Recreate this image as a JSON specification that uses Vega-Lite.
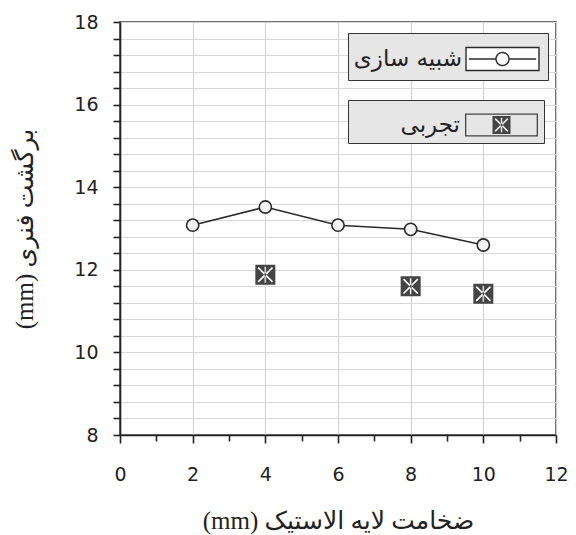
{
  "$schema": "https://vega.github.io/schema/vega-lite/v6.json",
  "width": 436,
  "height": 413,
  "autosize": "none",
  "padding": {"left": 120, "top": 22, "right": 20, "bottom": 100},
  "background": "white",
  "config": {
    "font": "DejaVu Sans",
    "view": {"stroke": "#404040", "strokeWidth": 1.6}
  },
  "datasets": {
    "sim": [
      {"x": 2, "y": 13.08, "series": "شبیه سازی"},
      {"x": 4, "y": 13.52, "series": "شبیه سازی"},
      {"x": 6, "y": 13.08, "series": "شبیه سازی"},
      {"x": 8, "y": 12.98, "series": "شبیه سازی"},
      {"x": 10, "y": 12.6, "series": "شبیه سازی"}
    ],
    "exp": [
      {"x": 4, "y": 11.88, "series": "تجربی"},
      {"x": 8, "y": 11.6, "series": "تجربی"},
      {"x": 10, "y": 11.42, "series": "تجربی"}
    ]
  },
  "encoding": {
    "x": {
      "field": "x",
      "type": "quantitative",
      "scale": {"domain": [0, 12], "nice": false, "zero": false},
      "axis": {
        "values": [0, 1, 2, 3, 4, 5, 6, 7, 8, 9, 10, 11, 12],
        "labelExpr": "datum.value % 2 === 0 ? format(datum.value, 'd') : ''",
        "grid": true,
        "gridColor": "#d2d2d2",
        "gridWidth": 1.2,
        "gridOpacity": {"condition": {"test": "datum.value % 2 === 0", "value": 1}, "value": 0},
        "domainColor": "#222222",
        "domainWidth": 1.6,
        "tickColor": "#222222",
        "tickWidth": 1.6,
        "tickSize": {"condition": {"test": "datum.value % 2 === 0", "value": 8}, "value": 6},
        "labelFont": "DejaVu Sans",
        "labelFontSize": 19,
        "labelColor": "#222222",
        "labelPadding": 22,
        "labelFlush": false,
        "labelOverlap": false,
        "title": "(mm) ضخامت لایه الاستیک",
        "titleFont": "Liberation Serif, DejaVu Sans",
        "titleFontSize": 25,
        "titleFontWeight": "normal",
        "titleColor": "#222222",
        "titlePadding": 24
      }
    },
    "y": {
      "field": "y",
      "type": "quantitative",
      "scale": {"domain": [8, 18], "nice": false, "zero": false},
      "axis": {
        "values": [8, 8.4, 8.8, 9.2, 9.6, 10, 10.4, 10.8, 11.2, 11.6, 12, 12.4, 12.8, 13.2, 13.6, 14, 14.4, 14.8, 15.2, 15.6, 16, 16.4, 16.8, 17.2, 17.6, 18],
        "labelExpr": "datum.value % 2 === 0 ? format(datum.value, 'd') : ''",
        "grid": true,
        "gridColor": "#d8d8d8",
        "gridWidth": 1.2,
        "domainColor": "#222222",
        "domainWidth": 1.6,
        "tickColor": "#222222",
        "tickWidth": 1.6,
        "tickSize": 7,
        "labelFont": "DejaVu Sans",
        "labelFontSize": 19,
        "labelColor": "#222222",
        "labelPadding": 15,
        "labelFlush": false,
        "labelOverlap": false,
        "title": "(mm) برگشت فنری",
        "titleFont": "Liberation Serif, DejaVu Sans",
        "titleFontSize": 25,
        "titleFontWeight": "normal",
        "titleColor": "#222222",
        "titlePadding": 36
      }
    }
  },
  "layer": [
    {
      "data": {"name": "sim"},
      "mark": {"type": "line", "strokeWidth": 1.6},
      "encoding": {
        "color": {
          "field": "series",
          "type": "nominal",
          "scale": {"range": ["#2a2a2a"]},
          "legend": {
            "orient": "none",
            "legendX": 228,
            "legendY": 11,
            "title": null,
            "padding": 6,
            "fillColor": "#e6e6e6",
            "strokeColor": "#333333",
            "labelFont": "DejaVu Sans",
            "labelFontSize": 23,
            "labelColor": "#222222",
            "labelAlign": "right",
            "labelLimit": 0,
            "labelOffset": -60.5,
            "symbolOffset": 128.5,
            "symbolSize": 1444,
            "symbolType": "M-1.92,-0.605H1.92V0.605H-1.92ZM-1.77,0H-0.342M0.342,0H1.77M0.342,0A0.342,0.342 0 1,1 -0.342,0A0.342,0.342 0 1,1 0.342,0Z",
            "symbolFillColor": "#ffffff",
            "symbolStrokeColor": "#222222",
            "symbolStrokeWidth": 1.4,
            "symbolDash": [1, 0],
            "encode": {
              "symbols": {
                "update": {
                  "fill": {"value": "#ffffff"},
                  "opacity": {"value": 1}
                }
              }
            }
          }
        }
      }
    },
    {
      "data": {"name": "sim"},
      "mark": {"type": "point", "shape": "circle", "filled": true, "fill": "#f3f3f3", "stroke": "#2a2a2a", "strokeWidth": 1.6, "size": 150, "opacity": 1}
    },
    {
      "data": {"name": "exp"},
      "mark": {
        "type": "point",
        "filled": true,
        "strokeWidth": 0,
        "size": 400,
        "opacity": 1,
        "shape": "M-1,-1H1V1H-1ZM-0.77,-0.657L0.657,0.77L0.77,0.657L-0.657,-0.77ZM-0.77,0.657L-0.657,0.77L0.77,-0.657L0.657,-0.77ZM-0.075,-0.8V0.8H0.075V-0.8Z"
      },
      "encoding": {
        "fill": {
          "field": "series",
          "type": "nominal",
          "scale": {"range": ["#444444"]},
          "legend": {
            "orient": "none",
            "legendX": 228,
            "legendY": 78,
            "title": null,
            "padding": 6,
            "fillColor": "#e6e6e6",
            "strokeColor": "#333333",
            "labelFont": "DejaVu Sans",
            "labelFontSize": 23,
            "labelColor": "#222222",
            "labelAlign": "right",
            "labelLimit": 0,
            "labelOffset": -60.5,
            "symbolOffset": 128.5,
            "symbolSize": 1444,
            "symbolType": "M-1.92,-0.605H1.92V0.605H-1.92ZM-1.852,-0.537V0.537H1.852V-0.537ZM-0.474,-0.474H0.474V0.474H-0.474ZM-0.365,-0.309L0.309,0.365L0.365,0.309L-0.309,-0.365ZM-0.365,0.309L-0.309,0.365L0.365,-0.309L0.309,-0.365ZM-0.038,-0.384V0.384H0.038V-0.384Z",
            "symbolStrokeWidth": 0,
            "symbolStrokeColor": "transparent",
            "symbolOpacity": 1
          }
        }
      }
    }
  ]
}
